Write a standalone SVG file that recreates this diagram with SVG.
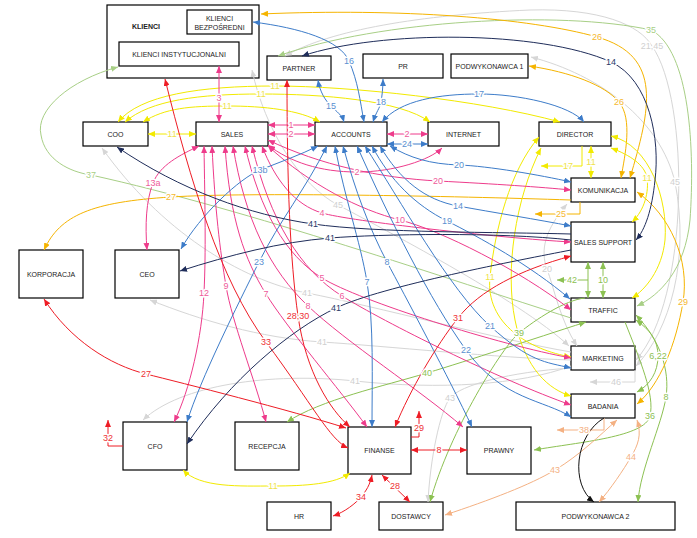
<svg xmlns="http://www.w3.org/2000/svg" width="697" height="538" viewBox="0 0 697 538">
<style>
.n rect{fill:#fff;stroke:#000;stroke-width:1.2}
.n text{font-family:"Liberation Sans",Arial,sans-serif;font-size:7px;fill:#222;text-anchor:middle;dominant-baseline:central}
.c path{fill:none;stroke-width:1}
.pk{stroke:#ee3b8b;marker-start:url(#mpk);marker-end:url(#mpk)}
.rd{stroke:#ee1c25;marker-start:url(#mrd);marker-end:url(#mrd)}
.bl{stroke:#3d7cc9;marker-start:url(#mbl);marker-end:url(#mbl)}
.nv{stroke:#1f2d5a;marker-start:url(#mnv);marker-end:url(#mnv)}
.yl{stroke:#f2ea00;marker-start:url(#myl);marker-end:url(#myl)}
.gd{stroke:#f5b400;marker-start:url(#mgd);marker-end:url(#mgd)}
.pc{stroke:#f4b183;marker-start:url(#mpc);marker-end:url(#mpc)}
.gr{stroke:#8cc152;marker-start:url(#mgr);marker-end:url(#mgr)}
.lg{stroke:#a8cf86;marker-start:url(#mlg);marker-end:url(#mlg)}
.gy{stroke:#d6d6d6;marker-start:url(#mgy);marker-end:url(#mgy)}
.bk{stroke:#111;marker-start:url(#mbk);marker-end:url(#mbk)}
.ns{marker-start:none}
.ne{marker-end:none}
.lb text{font-family:"Liberation Sans",Arial,sans-serif;font-size:9px;text-anchor:middle;dominant-baseline:central;stroke:#fff;stroke-width:3px;paint-order:stroke;stroke-linejoin:round}
.tpk{fill:#ee5b9b}.trd{fill:#ee3035}.tbl{fill:#5a8fd0}.tnv{fill:#2a3a6a}.tyl{fill:#eee24a}.tgd{fill:#f5b830}.tpc{fill:#f4b183}.tgr{fill:#8cc152}.tlg{fill:#a8cf86}.tgy{fill:#d0d0d0}
</style>
<defs>
<marker id="mpk" viewBox="0 0 7 6" refX="7" refY="3" markerWidth="7" markerHeight="6" markerUnits="userSpaceOnUse" orient="auto-start-reverse"><path d="M0,0L7,3L0,6z" fill="#ee3b8b"/></marker>
<marker id="mrd" viewBox="0 0 7 6" refX="7" refY="3" markerWidth="7" markerHeight="6" markerUnits="userSpaceOnUse" orient="auto-start-reverse"><path d="M0,0L7,3L0,6z" fill="#ee1c25"/></marker>
<marker id="mbl" viewBox="0 0 7 6" refX="7" refY="3" markerWidth="7" markerHeight="6" markerUnits="userSpaceOnUse" orient="auto-start-reverse"><path d="M0,0L7,3L0,6z" fill="#3d7cc9"/></marker>
<marker id="mnv" viewBox="0 0 7 6" refX="7" refY="3" markerWidth="7" markerHeight="6" markerUnits="userSpaceOnUse" orient="auto-start-reverse"><path d="M0,0L7,3L0,6z" fill="#1f2d5a"/></marker>
<marker id="myl" viewBox="0 0 7 6" refX="7" refY="3" markerWidth="7" markerHeight="6" markerUnits="userSpaceOnUse" orient="auto-start-reverse"><path d="M0,0L7,3L0,6z" fill="#f2ea00"/></marker>
<marker id="mgd" viewBox="0 0 7 6" refX="7" refY="3" markerWidth="7" markerHeight="6" markerUnits="userSpaceOnUse" orient="auto-start-reverse"><path d="M0,0L7,3L0,6z" fill="#f5b400"/></marker>
<marker id="mpc" viewBox="0 0 7 6" refX="7" refY="3" markerWidth="7" markerHeight="6" markerUnits="userSpaceOnUse" orient="auto-start-reverse"><path d="M0,0L7,3L0,6z" fill="#f4b183"/></marker>
<marker id="mgr" viewBox="0 0 7 6" refX="7" refY="3" markerWidth="7" markerHeight="6" markerUnits="userSpaceOnUse" orient="auto-start-reverse"><path d="M0,0L7,3L0,6z" fill="#8cc152"/></marker>
<marker id="mlg" viewBox="0 0 7 6" refX="7" refY="3" markerWidth="7" markerHeight="6" markerUnits="userSpaceOnUse" orient="auto-start-reverse"><path d="M0,0L7,3L0,6z" fill="#a8cf86"/></marker>
<marker id="mgy" viewBox="0 0 7 6" refX="7" refY="3" markerWidth="7" markerHeight="6" markerUnits="userSpaceOnUse" orient="auto-start-reverse"><path d="M0,0L7,3L0,6z" fill="#d6d6d6"/></marker>
<marker id="mbk" viewBox="0 0 7 6" refX="7" refY="3" markerWidth="7" markerHeight="6" markerUnits="userSpaceOnUse" orient="auto-start-reverse"><path d="M0,0L7,3L0,6z" fill="#111"/></marker>
</defs>
<rect width="697" height="538" fill="#fff"/>
<g id="nodes" class="n">
<g id="klienci"><rect x="107" y="5" width="152" height="73"/><text x="146" y="26" style="font-weight:bold">KLIENCI</text></g>
<g id="klienci-bezposredni"><rect x="187" y="10" width="65" height="24"/><text x="219.5" y="18">KLIENCI</text><text x="219.5" y="27">BEZPOŚREDNI</text></g>
<g id="klienci-instytucjonalni"><rect x="119" y="42" width="120" height="24"/><text x="179" y="54">KLIENCI INSTYTUCJONALNI</text></g>
<g id="partner"><rect x="267" y="56" width="64" height="24"/><text x="299" y="68">PARTNER</text></g>
<g id="pr"><rect x="363" y="54" width="80" height="24"/><text x="403" y="66">PR</text></g>
<g id="podwykonawca1"><rect x="451" y="54" width="77" height="24"/><text x="489.5" y="66">PODWYKONAWCA 1</text></g>
<g id="coo"><rect x="83" y="122" width="65" height="24"/><text x="115.5" y="134">COO</text></g>
<g id="sales"><rect x="196" y="122" width="72" height="24"/><text x="232" y="134">SALES</text></g>
<g id="accounts"><rect x="315" y="122" width="72" height="24"/><text x="351" y="134">ACCOUNTS</text></g>
<g id="internet"><rect x="428" y="122" width="71" height="24"/><text x="463.5" y="134">INTERNET</text></g>
<g id="director"><rect x="539" y="122" width="72" height="24"/><text x="575" y="134">DIRECTOR</text></g>
<g id="komunikacja"><rect x="571" y="178" width="64" height="24"/><text x="603" y="190">KOMUNIKACJA</text></g>
<g id="sales-support"><rect x="571" y="222" width="64" height="40"/><text x="603" y="242">SALES SUPPORT</text></g>
<g id="traffic"><rect x="571" y="298" width="64" height="24"/><text x="603" y="310">TRAFFIC</text></g>
<g id="marketing"><rect x="571" y="346" width="64" height="24"/><text x="603" y="358">MARKETING</text></g>
<g id="badania"><rect x="571" y="394" width="64" height="24"/><text x="603" y="406">BADANIA</text></g>
<g id="podwykonawca2"><rect x="516" y="502" width="159" height="28"/><text x="595.5" y="516">PODWYKONAWCA 2</text></g>
<g id="korporacja"><rect x="19" y="250" width="64" height="48"/><text x="51" y="274">KORPORACJA</text></g>
<g id="ceo"><rect x="115" y="250" width="64" height="48"/><text x="147" y="274">CEO</text></g>
<g id="cfo"><rect x="123" y="422" width="64" height="48"/><text x="155" y="446">CFO</text></g>
<g id="recepcja"><rect x="235" y="422" width="64" height="48"/><text x="267" y="446">RECEPCJA</text></g>
<g id="finanse"><rect x="348" y="427" width="63" height="47"/><text x="379.5" y="450.5">FINANSE</text></g>
<g id="prawny"><rect x="467" y="427" width="64" height="47"/><text x="499" y="450.5">PRAWNY</text></g>
<g id="hr"><rect x="267" y="502" width="64" height="28"/><text x="299" y="516">HR</text></g>
<g id="dostawcy"><rect x="379" y="502" width="64" height="28"/><text x="411" y="516">DOSTAWCY</text></g>
</g>
<g id="connectors" class="c">
<g class="gy">
<path d="M285,56 C330,30 420,15 530,10 C600,8 640,25 652,46 C690,100 690,300 636,360"/>
<path d="M531,57 C600,75 660,120 675,182 C690,260 670,330 636,366"/>
<path d="M252,70 C265,130 300,185 338,205 S520,300 569,346"/>
<path d="M567,204 C545,230 540,250 547,269 S560,320 577,346"/>
<path class="ne" d="M102,148 C160,230 240,280 307,293 S500,340 571,352"/>
<path class="ne" d="M150,300 C200,320 260,338 322,342 S500,358 571,360"/>
<path class="ne" d="M143,420 C180,385 270,372 355,381 S520,385 571,366"/>
<path class="ns" d="M635,370 V382 H590"/>
<path class="ns" d="M571,368 C510,372 460,385 450,398 S430,460 428,502"/>
</g>
<g class="lg">
<path d="M278,56 C380,20 560,10 651,30 C690,50 695,150 690,220 C685,270 660,295 637,306"/>
<path class="ne" d="M118,67 C70,80 35,110 41,135 C45,160 70,172 91,175 C250,210 450,280 571,318"/>
</g>
<g class="gr">
<path d="M588,262 V298"/>
<path class="ns" d="M588,280 H557"/>
<path d="M603,262 V298"/>
<path class="ns" d="M585,298 C565,300 535,320 519,333 S450,430 430,502"/>
<path d="M586,322 C530,340 470,360 427,373 S320,400 287,422"/>
<path class="ns" d="M625,322 C640,360 655,395 650,416 S580,442 534,450"/>
<path d="M636,315 C660,340 670,370 666,397 S640,470 638,502"/>
<path d="M636,320 C650,330 658,340 658,356 S650,385 637,392"/>
</g>
<g class="pc">
<path class="ns" d="M604,418 V430 H557"/>
<path d="M445,515 C490,500 530,485 555,470 S600,435 617,420"/>
<path d="M637,420 C642,435 638,445 631,457 S610,490 599,502"/>
</g>
<g class="gd">
<path d="M261,14 C400,8 530,18 597,37 S650,110 630,178"/>
<path d="M529,66 C570,72 605,85 619,102 S625,155 621,178"/>
<path class="ns" d="M580,202 V214 H535"/>
<path class="ns" d="M571,200 C450,196 250,192 171,197 S60,215 44,250"/>
<path d="M637,192 C670,215 690,260 683,302 S660,385 637,404"/>
</g>
<g class="yl">
<path d="M148,134 H196"/>
<path d="M143,122 C165,108 190,106 227,106 S300,110 320,122"/>
<path d="M125,122 C150,100 200,94 261,94 S400,100 430,122"/>
<path d="M118,122 C140,95 200,86 275,86 S480,100 560,122"/>
<path class="ns" d="M582,146 V166 H541"/>
<path d="M591,146 V178"/>
<path d="M611,148 C630,155 645,165 647,178 S645,210 632,222"/>
<path d="M611,136 C650,145 668,200 665,240 C662,270 645,290 632,298"/>
<path d="M539,137 C510,170 495,230 490,277 S530,350 571,357"/>
<path d="M541,148 C515,200 505,270 515,320 C525,370 550,390 571,396"/>
<path d="M183,470 C200,488 240,486 273,486 S335,484 350,473"/>
</g>
<g class="pk">
<path d="M268,125 H315"/>
<path d="M268,134 H315"/>
<path d="M219,66 V122"/>
<path d="M387,134 H428"/>
<path d="M268,145 C290,162 320,172 357,172 S430,160 442,148"/>
<path d="M268,140 C320,165 380,178 438,181 S540,187 571,190"/>
<path d="M262,146 C275,180 295,205 322,213 S500,238 571,242"/>
<path d="M268,146 C310,185 360,210 400,220 S520,270 571,310"/>
<path d="M252,146 C270,220 300,270 342,296 S500,380 571,405"/>
<path d="M245,146 C260,210 285,255 322,278 S500,345 571,358"/>
<path d="M233,146 C245,220 270,270 308,306 S420,390 463,427"/>
<path d="M225,146 C230,220 245,260 266,294 S340,390 367,427"/>
<path d="M212,146 C215,210 220,250 226,286 S255,380 266,422"/>
<path d="M204,146 C205,210 206,250 204,293 S190,390 174,422"/>
<path d="M199,146 C180,155 160,165 153,183 S145,225 147,250"/>
</g>
<g class="bl">
<path d="M318,80 C320,92 325,100 331,106 S342,115 344,122"/>
<path d="M253,22 C300,28 340,40 349,61 S360,100 364,122"/>
<path d="M373,122 C376,112 380,108 381,102 S383,88 383,79"/>
<path d="M382,122 C400,100 440,94 479,94 S570,105 584,122"/>
<path d="M387,144 H428"/>
<path d="M390,146 C410,158 430,164 459,165 S540,175 571,182"/>
<path d="M380,146 C400,180 425,200 458,206 S540,220 571,226"/>
<path d="M372,146 C390,180 415,205 447,221 S530,265 570,299"/>
<path d="M365,146 C400,200 450,290 490,326 S545,362 571,368"/>
<path d="M357,146 C390,220 430,300 466,350 S545,400 571,417"/>
<path d="M343,146 C355,190 370,230 387,262 S450,380 472,427"/>
<path d="M335,146 C345,200 360,240 367,282 S372,380 372,427"/>
<path d="M318,146 C300,155 280,162 260,170 S200,215 181,249"/>
<path d="M327,146 C305,190 280,220 259,262 S200,380 187,422"/>
</g>
<g class="rd">
<path d="M165,79 C190,180 220,280 266,342 S330,440 348,448"/>
<path d="M44,299 C70,340 110,365 146,374 S290,410 346,428"/>
<path d="M287,80 C287,180 290,260 298,316 S330,410 350,427"/>
<path d="M571,256 C520,270 480,290 458,318 S410,390 395,427"/>
<path class="ns" d="M411,437 H419 V411"/>
<path class="ns" d="M123,446 H108 V420"/>
<path d="M411,450 H467"/>
<path d="M382,475 L410,502"/>
<path d="M372,475 C370,485 366,491 361,497 S345,512 333,516"/>
</g>
<g class="nv">
<path d="M302,56 C380,30 540,30 611,62 C650,80 660,140 655,180 C652,210 645,230 636,240"/>
<path class="ne" d="M117,147 C180,190 250,215 313,224 S500,232 571,234"/>
<path class="ne" d="M180,271 C230,255 280,242 330,238 S500,232 571,240"/>
<path class="ne" d="M187,444 C230,380 290,330 336,308 S520,260 571,250"/>
</g>
<g class="bk">
<path class="ns" d="M604,418 C575,435 570,485 594,502"/>
</g>
</g>
<g id="labels" class="lb">
<text class="tgy" x="652" y="46">21,45</text>
<text class="tgy" x="675" y="182">45</text>
<text class="tgy" x="338" y="205">45</text>
<text class="tgy" x="547" y="269">20</text>
<text class="tgy" x="307" y="293">41</text>
<text class="tgy" x="322" y="342">41</text>
<text class="tgy" x="355" y="381">41</text>
<text class="tgy" x="616" y="382">46</text>
<text class="tgy" x="450" y="398">43</text>
<text class="tlg" x="651" y="30">35</text>
<text class="tlg" x="91" y="175">37</text>
<text class="tgr" x="572" y="280">42</text>
<text class="tgr" x="603" y="280">10</text>
<text class="tgr" x="519" y="333">39</text>
<text class="tgr" x="427" y="373">40</text>
<text class="tgr" x="650" y="416">36</text>
<text class="tgr" x="666" y="397">8</text>
<text class="tgr" x="658" y="356">6,22</text>
<text class="tpc" x="584" y="430">38</text>
<text class="tpc" x="555" y="470">43</text>
<text class="tpc" x="631" y="457">44</text>
<text class="tgd" x="597" y="37">26</text>
<text class="tgd" x="619" y="102">26</text>
<text class="tgd" x="561" y="214">25</text>
<text class="tgd" x="171" y="197">27</text>
<text class="tgd" x="683" y="302">29</text>
<text class="tyl" x="172" y="134">11</text>
<text class="tyl" x="227" y="106">11</text>
<text class="tyl" x="261" y="94">11</text>
<text class="tyl" x="275" y="86">11</text>
<text class="tyl" x="568" y="166">17</text>
<text class="tyl" x="591" y="162">11</text>
<text class="tyl" x="647" y="178">11</text>
<text class="tyl" x="490" y="277">11</text>
<text class="tyl" x="273" y="486">11</text>
<text class="tpk" x="291" y="125">1</text>
<text class="tpk" x="291" y="134">2</text>
<text class="tpk" x="219" y="98">3</text>
<text class="tpk" x="407" y="134">2</text>
<text class="tpk" x="357" y="172">2</text>
<text class="tpk" x="438" y="181">20</text>
<text class="tpk" x="322" y="213">4</text>
<text class="tpk" x="400" y="220">10</text>
<text class="tpk" x="342" y="296">6</text>
<text class="tpk" x="322" y="278">5</text>
<text class="tpk" x="308" y="306">8</text>
<text class="tpk" x="266" y="294">7</text>
<text class="tpk" x="226" y="286">9</text>
<text class="tpk" x="204" y="293">12</text>
<text class="tpk" x="153" y="183">13a</text>
<text class="tbl" x="331" y="106">15</text>
<text class="tbl" x="349" y="61">16</text>
<text class="tbl" x="381" y="102">18</text>
<text class="tbl" x="479" y="94">17</text>
<text class="tbl" x="407" y="144">24</text>
<text class="tbl" x="459" y="165">20</text>
<text class="tbl" x="458" y="206">14</text>
<text class="tbl" x="447" y="221">19</text>
<text class="tbl" x="490" y="326">21</text>
<text class="tbl" x="466" y="350">22</text>
<text class="tbl" x="387" y="262">8</text>
<text class="tbl" x="367" y="282">7</text>
<text class="tbl" x="260" y="170">13b</text>
<text class="tbl" x="259" y="262">23</text>
<text class="trd" x="266" y="342">33</text>
<text class="trd" x="146" y="374">27</text>
<text class="trd" x="298" y="316">28,30</text>
<text class="trd" x="458" y="318">31</text>
<text class="trd" x="419" y="428">29</text>
<text class="trd" x="108" y="438">32</text>
<text class="trd" x="439" y="450">8</text>
<text class="trd" x="395" y="486">28</text>
<text class="trd" x="361" y="497">34</text>
<text class="tnv" x="611" y="62">14</text>
<text class="tnv" x="313" y="224">41</text>
<text class="tnv" x="330" y="238">41</text>
<text class="tnv" x="336" y="308">41</text>
</g>
</svg>
